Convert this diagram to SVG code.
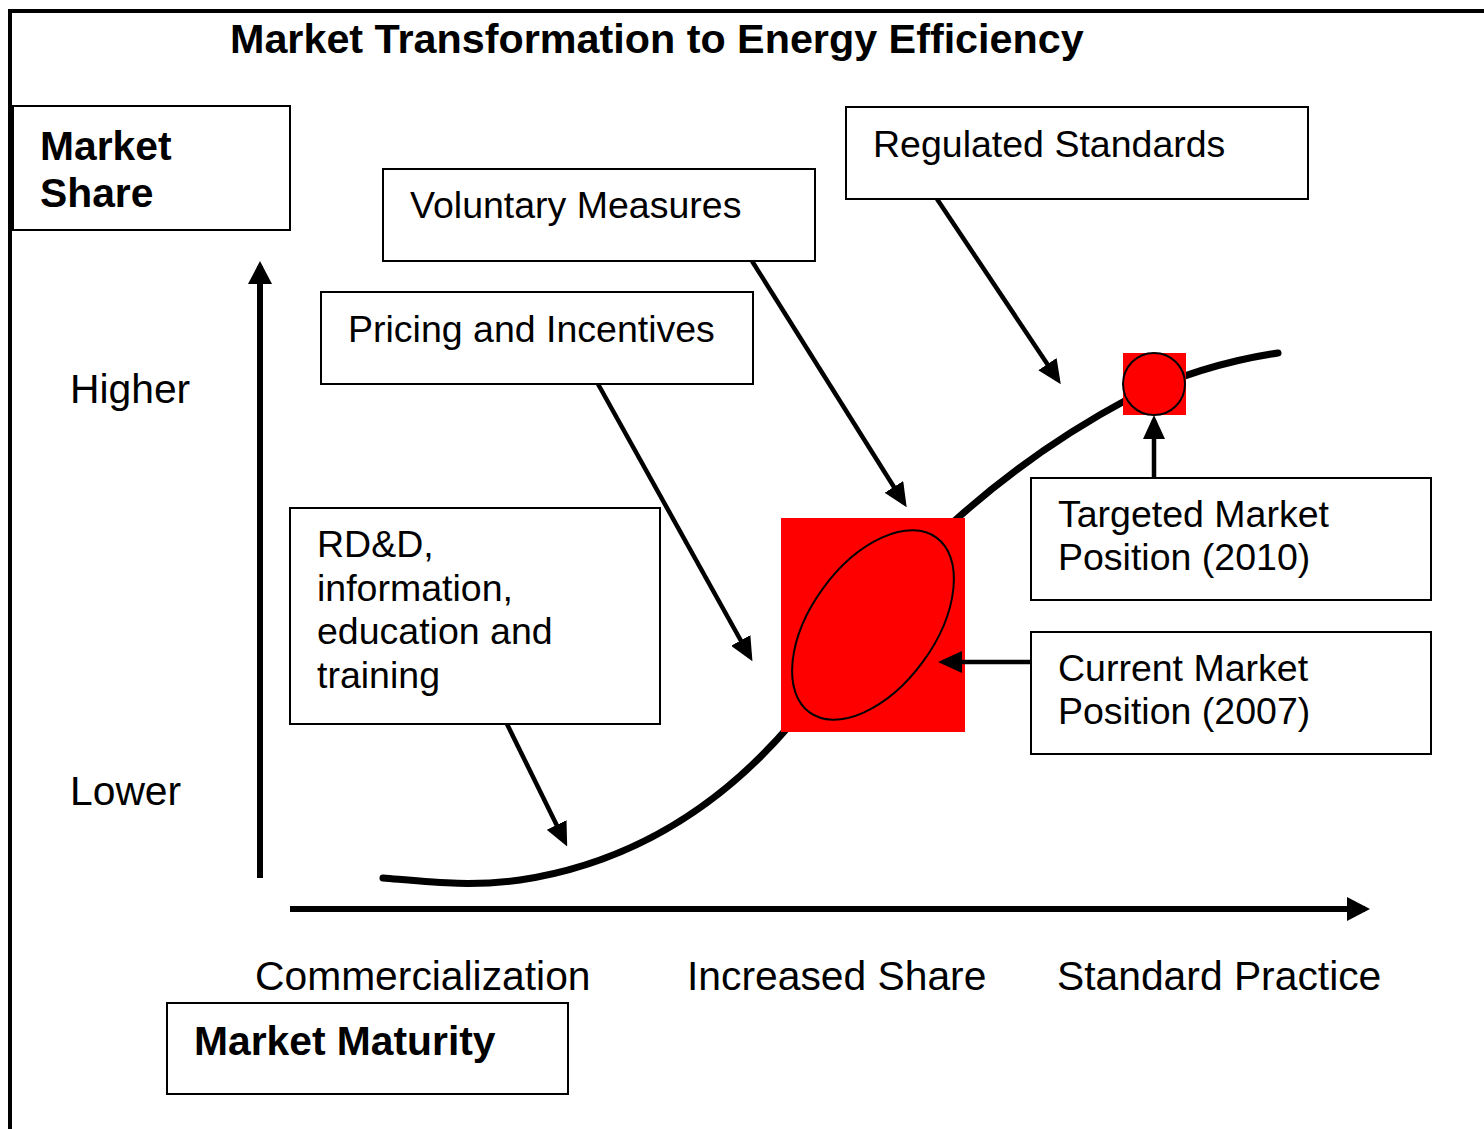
<svg xmlns="http://www.w3.org/2000/svg" width="1484" height="1129" viewBox="0 0 1484 1129">
<defs>
<style>
.box{fill:#fff;stroke:#000;stroke-width:2}
.t{font-family:"Liberation Sans",Arial,sans-serif;font-size:37.5px;fill:#000}
.lab{font-family:"Liberation Sans",Arial,sans-serif;font-size:40.8px;fill:#000}
.b{font-family:"Liberation Sans",Arial,sans-serif;font-size:40.8px;font-weight:bold;fill:#000}
.conn{stroke:#000;stroke-width:4.5;fill:none;marker-end:url(#ah)}
.axis{stroke:#000;stroke-width:6;fill:none}
</style>
<marker id="ah" markerUnits="userSpaceOnUse" markerWidth="24" markerHeight="22" refX="19" refY="11" orient="auto" viewBox="0 0 24 22">
<path d="M0,0 L24,11 L0,22 z" fill="#000"/>
</marker>
<marker id="axh" markerUnits="userSpaceOnUse" markerWidth="24" markerHeight="24" refX="18" refY="12" orient="auto" viewBox="0 0 24 24">
<path d="M0,0 L23,12 L0,24 z" fill="#000"/>
</marker>
</defs>
<rect width="1484" height="1129" fill="#fff"/>
<g id="frame">
<path d="M10,1129 L10,11 L1484,11" fill="none" stroke="#000" stroke-width="4"/>
</g>
<g id="title"><text class="b" x="230" y="53" style="font-size:41.3px">Market Transformation to Energy Efficiency</text></g>

<g id="curve">
<path d="M383,878 C430,882 470,887 520,880 C600,868 700,830 790,725 L950,525 C1010,470 1070,430 1130,398 C1180,375 1230,360 1278,353" fill="none" stroke="#000" stroke-width="7" stroke-linecap="round"/>
</g>

<g id="axes">
<line class="axis" x1="260" y1="878" x2="260" y2="266" marker-end="url(#axh)"/>
<line class="axis" x1="290" y1="909" x2="1365" y2="909" marker-end="url(#axh)"/>
</g>

<g id="current-position">
<rect x="781" y="518" width="184" height="214" fill="#ff0000"/>
<ellipse cx="873" cy="625" rx="108" ry="62" transform="rotate(-54 873 625)" fill="#ff0000" stroke="#000" stroke-width="2"/>
</g>
<g id="target-position">
<rect x="1123" y="353" width="63" height="62" fill="#ff0000"/>
<circle cx="1154" cy="384" r="31" fill="#ff0000" stroke="#000" stroke-width="2"/>
</g>

<g id="market-share"><rect class="box" x="13" y="106" width="277" height="124"/>
<text class="b" x="40" y="160">Market</text><text class="b" x="40" y="207">Share</text></g>
<g id="regulated"><rect class="box" x="846" y="107" width="462" height="92"/>
<text class="t" x="873" y="157">Regulated Standards</text></g>
<g id="voluntary"><rect class="box" x="383" y="169" width="432" height="92"/>
<text class="t" x="410" y="218">Voluntary Measures</text></g>
<g id="pricing"><rect class="box" x="321" y="292" width="432" height="92"/>
<text class="t" x="348" y="342">Pricing and Incentives</text></g>
<g id="rdd"><rect class="box" x="290" y="508" width="370" height="216"/>
<text class="t" x="317" y="557">RD&amp;D,</text>
<text class="t" x="317" y="601">information,</text>
<text class="t" x="317" y="644">education and</text>
<text class="t" x="317" y="688">training</text></g>
<g id="targeted"><rect class="box" x="1031" y="478" width="400" height="122"/>
<text class="t" x="1058" y="527">Targeted Market</text>
<text class="t" x="1058" y="570">Position (2010)</text></g>
<g id="current"><rect class="box" x="1031" y="632" width="400" height="122"/>
<text class="t" x="1058" y="681">Current Market</text>
<text class="t" x="1058" y="724">Position (2007)</text></g>
<g id="market-maturity"><rect class="box" x="167" y="1003" width="401" height="91"/>
<text class="b" x="194" y="1055">Market Maturity</text></g>

<g id="labels">
<text class="lab" x="70" y="403">Higher</text>
<text class="lab" x="70" y="805">Lower</text>
<text class="lab" x="255" y="990">Commercialization</text>
<text class="lab" x="687" y="990">Increased Share</text>
<text class="lab" x="1057" y="990">Standard Practice</text>
</g>

<g id="connectors">
<line class="conn" x1="507" y1="724" x2="565" y2="842"/>
<line class="conn" x1="598" y1="384" x2="750" y2="657"/>
<line class="conn" x1="752" y1="261" x2="904" y2="503"/>
<line class="conn" x1="937" y1="199" x2="1058" y2="380"/>
<line class="conn" x1="1154" y1="478" x2="1154" y2="420"/>
<line class="conn" x1="1031" y1="662" x2="943" y2="662"/>
</g>
</svg>
